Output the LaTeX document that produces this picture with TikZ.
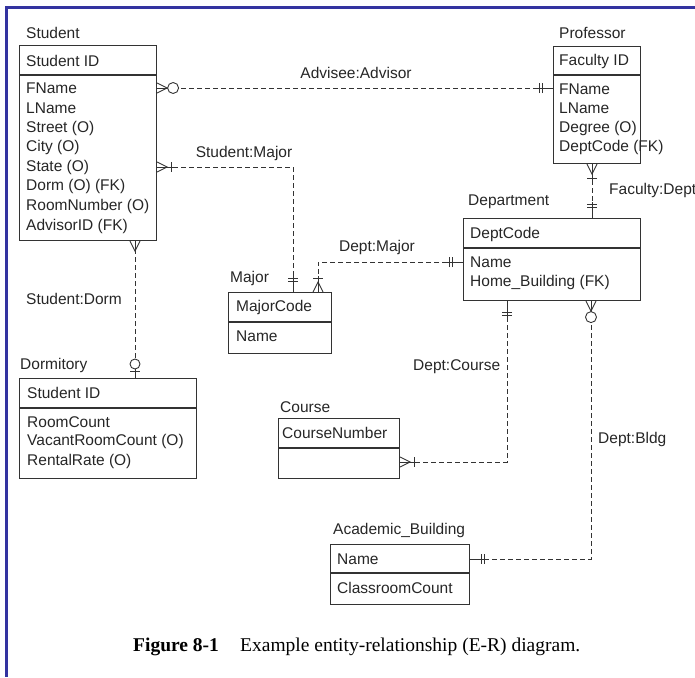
\documentclass[tikz,border=0pt]{standalone}
\usepackage{fontspec}
\setmainfont{Liberation Sans}
\newfontfamily\capfont{Liberation Serif}
\definecolor{frameblue}{RGB}{51,51,160}
\begin{document}
\begin{tikzpicture}[x=1pt,y=-1pt,
  every node/.style={font=\fontsize{15.5}{18}\selectfont, text=black!85, inner sep=0pt},
  box/.style={draw=black!80, line width=1.1pt, anchor=north west, inner sep=0pt},
  sepline/.style={draw=black!80, line width=1.1pt},
  txt/.style={anchor=west},
  conn/.style={draw=black!80, line width=0.9pt, dash pattern=on 5pt off 3pt},
  mk/.style={draw=black!80, line width=0.9pt, solid},
  many/.pic={\draw[mk] (0,-5)--(10,0)--(0,5); \draw[mk] (0,0)--(10,0);},
  zeromany/.pic={\draw[mk] (0,-5)--(10,0)--(0,5); \draw[mk] (0,0)--(10.5,0); \draw[mk,fill=white] (16,0) circle (5.5pt);},
  onemany/.pic={\draw[mk] (0,-5)--(10,0)--(0,5); \draw[mk] (0,0)--(16,0); \draw[mk] (14,-5)--(14,5);},
  oneone/.pic={\draw[mk] (0,0)--(16,0); \draw[mk] (11,-5)--(11,5); \draw[mk] (14,-5)--(14,5);},
  zeroone/.pic={\draw[mk] (0,0)--(7,0); \draw[mk] (7,-5)--(7,5); \draw[mk,fill=white] (14,0) circle (5pt);},
]
\useasboundingbox (0,0) rectangle (695,677);
% frame
\fill[frameblue] (5,6) rectangle (695,9);
\fill[frameblue] (5,6) rectangle (8,677);

% Student
\node[txt] (lstudent) at (26,33) {Student};
\node[box, minimum width=137pt, minimum height=195pt] (student) at (19,45) {};
\draw[sepline] (19,75) -- (156,75);
\node[txt] (sid) at (26,61) {Student ID};
\node[txt] (sfname) at (26,88) {FName};
\node[txt] (slname) at (26,108) {LName};
\node[txt] (sstreet) at (26,128) {Street (O)};
\node[txt] (scity) at (26,147) {City (O)};
\node[txt] (sstate) at (26,167) {State (O)};
\node[txt] (sdorm) at (26,186) {Dorm (O) (FK)};
\node[txt] (sroom) at (26,206) {RoomNumber (O)};
\node[txt] (sadv) at (26,226) {AdvisorID (FK)};

% Professor
\node[txt] (lprof) at (559,33) {Professor};
\node[box, minimum width=87pt, minimum height=117pt] (prof) at (553,46) {};
\draw[sepline] (553,75) -- (640,75);
\node[txt] (pid) at (559,61) {Faculty ID};
\node[txt] (pfname) at (559,89) {FName};
\node[txt] (plname) at (559,108) {LName};
\node[txt] (pdeg) at (559,128) {Degree (O)};
\node[txt] (pdept) at (559,147) {DeptCode (FK)};

% Department
\node[txt] (ldept) at (468,202) {Department};
\node[box, minimum width=177pt, minimum height=82pt] (dept) at (463,218) {};
\draw[sepline] (463,248) -- (640,248);
\node[txt] (dcode) at (470,234) {DeptCode};
\node[txt] (dname) at (470,262) {Name};
\node[txt] (dhome) at (470,282) {Home\_Building (FK)};

% Major
\node[txt] (lmajor) at (230,278) {Major};
\node[box, minimum width=103pt, minimum height=61pt] (major) at (228,292) {};
\draw[sepline] (228,322) -- (331,322);
\node[txt] (mcode) at (236,307) {MajorCode};
\node[txt] (mname) at (236,336) {Name};

% Dormitory
\node[txt] (ldorm) at (20,365) {Dormitory};
\node[box, minimum width=177pt, minimum height=100pt] (dorm) at (19,378) {};
\draw[sepline] (19,408) -- (196,408);
\node[txt] (did) at (27,393) {Student ID};
\node[txt] (drc) at (27,422) {RoomCount};
\node[txt] (dvrc) at (27,441) {VacantRoomCount (O)};
\node[txt] (drr) at (27,461) {RentalRate (O)};

% Course
\node[txt] (lcourse) at (280,407) {Course};
\node[box, minimum width=121pt, minimum height=60pt] (course) at (278,418) {};
\draw[sepline] (278,448) -- (399,448);
\node[txt] (cnum) at (282,433) {CourseNumber};

% Academic_Building
\node[txt] (lbldg) at (333,530) {Academic\_Building};
\node[box, minimum width=139pt, minimum height=60pt] (bldg) at (330,544) {};
\draw[sepline] (330,573) -- (469,573);
\node[txt] (bname) at (337,559) {Name};
\node[txt] (bcc) at (337,588) {ClassroomCount};

% relationship labels
\node (r1) at (356,73) {Advisee:Advisor};
\node (r2) at (244,153) {Student:Major};
\node[txt] (r3) at (26,299) {Student:Dorm};
\node[txt] (r4) at (609,190) {Faculty:Dept};
\node (r5) at (377,247) {Dept:Major};
\node[txt] (r6) at (413,367) {Dept:Course};
\node[txt] (r7) at (598,439) {Dept:Bldg};

% Advisee:Advisor
\path (student.north east) ++(0,43) coordinate (a1);
\draw[conn] (a1) -- (a1 -| prof.west) coordinate (a2);
\pic at (a1) {zeromany};
\pic[rotate=180] at (a2) {oneone};

% Student:Major
\path (student.north east) ++(0,122) coordinate (b1);
\path (major.north west) ++(65,0) coordinate (b2);
\draw[conn] (b1) -| (b2);
\pic at (b1) {onemany};
\pic[rotate=90] at (b2) {oneone};

% Student:Dorm
\path (student.south west) ++(116,0) coordinate (c1);
\draw[conn] (c1) -- (c1 |- dorm.north) coordinate (c2);
\pic[rotate=-90] at (c1) {many};
\pic[rotate=90] at (c2) {zeroone};

% Faculty:Dept
\path (prof.south west) ++(39,0) coordinate (d1);
\draw[conn] (d1) -- (d1 |- dept.north) coordinate (d2);
\pic[rotate=-90] at (d1) {onemany};
\pic[rotate=90] at (d2) {oneone};

% Dept:Major
\path (dept.north west) ++(0,44) coordinate (e1);
\path (major.north west) ++(90,0) coordinate (e2);
\draw[conn] (e1) -| (e2);
\pic[rotate=180] at (e1) {oneone};
\pic[rotate=90] at (e2) {onemany};

% Dept:Course
\path (dept.south west) ++(44,0) coordinate (f1);
\path (course.north east) ++(0,44) coordinate (f2);
\draw[conn] (f1) |- (f2);
\pic[rotate=-90] at (f1) {oneone};
\pic at (f2) {onemany};

% Dept:Bldg
\path (dept.south west) ++(128,0) coordinate (g1);
\path (bldg.north east) ++(0,15) coordinate (g2);
\draw[conn] (g1) |- (g2);
\pic[rotate=-90] at (g1) {zeromany};
\pic at (g2) {oneone};

% caption
\node[txt, text=black, font=\capfont\fontsize{19.5}{22}\selectfont\bfseries] (cap1) at (133,647) {Figure 8-1};
\node[txt, text=black, font=\capfont\fontsize{19.5}{22}\selectfont] (cap2) at (240,647) {Example entity-relationship (E-R) diagram.};
\end{tikzpicture}
\end{document}
